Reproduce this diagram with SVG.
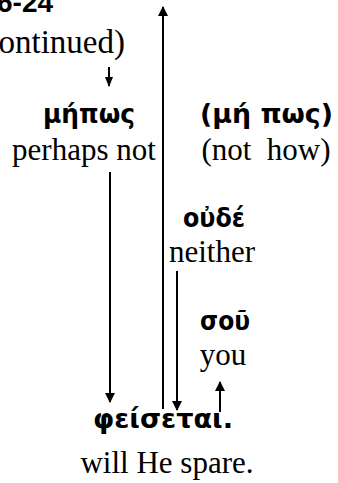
<svg xmlns="http://www.w3.org/2000/svg" width="338" height="483" viewBox="0 0 338 483">
<style>
.en{font-family:"Liberation Serif","Times New Roman",serif;font-size:31px;fill:#000;text-anchor:middle}
.gr{font-family:"DejaVu Sans",sans-serif;font-weight:bold;font-size:27px;fill:#000}
.ttl{font-family:"Liberation Sans",Arial,sans-serif;font-weight:bold;font-size:28px;fill:#000}
.ln{stroke:#000;stroke-width:2;fill:none}
</style>
<defs>
<marker id="ah" markerUnits="userSpaceOnUse" markerWidth="10" markerHeight="10" refX="9" refY="5" orient="auto">
<path d="M0,0 L10,5 L0,10 z" fill="#000"/>
</marker>
<marker id="ahs" markerUnits="userSpaceOnUse" markerWidth="10" markerHeight="8" refX="9" refY="4" orient="auto">
<path d="M0,0 L10,4 L0,8 z" fill="#000"/>
</marker>
</defs>
<rect width="338" height="483" fill="#fff"/>
<g id="title">
<text class="ttl" x="-3" y="12">6-24</text>
<text class="en" x="125" y="53" style="text-anchor:end;font-size:33px">(continued)</text>
</g>
<g id="connectors">
<line class="ln" x1="109" y1="67" x2="109" y2="86" marker-end="url(#ahs)"/>
<line class="ln" x1="163" y1="409" x2="163" y2="7" marker-end="url(#ah)"/>
<line class="ln" x1="110" y1="172" x2="110" y2="402" marker-end="url(#ah)"/>
<line class="ln" x1="177" y1="271" x2="177" y2="410" marker-end="url(#ah)"/>
<line class="ln" x1="220" y1="412" x2="220" y2="382" marker-end="url(#ah)"/>
</g>
<g id="n-mepos">
<text class="gr" x="43" y="123" textLength="92" lengthAdjust="spacingAndGlyphs">μήπως</text>
<text class="en" x="84" y="160">perhaps not</text>
</g>
<g id="n-me-pos">
<text class="gr" x="200" y="123" textLength="133" lengthAdjust="spacingAndGlyphs">(μή πως)</text>
<text class="en" x="266" y="160" xml:space="preserve">(not  how)</text>
</g>
<g id="n-oude">
<text class="gr" x="183" y="227" textLength="62" lengthAdjust="spacingAndGlyphs">οὐδέ</text>
<text class="en" x="212" y="262">neither</text>
</g>
<g id="n-sou">
<text class="gr" x="200" y="330" textLength="50" lengthAdjust="spacingAndGlyphs">σοῦ</text>
<text class="en" x="223" y="365">you</text>
</g>
<g id="n-feisetai">
<text class="gr" x="93" y="428" textLength="140" lengthAdjust="spacingAndGlyphs">φείσεται.</text>
<text class="en" x="167" y="473">will He spare.</text>
</g>
</svg>
